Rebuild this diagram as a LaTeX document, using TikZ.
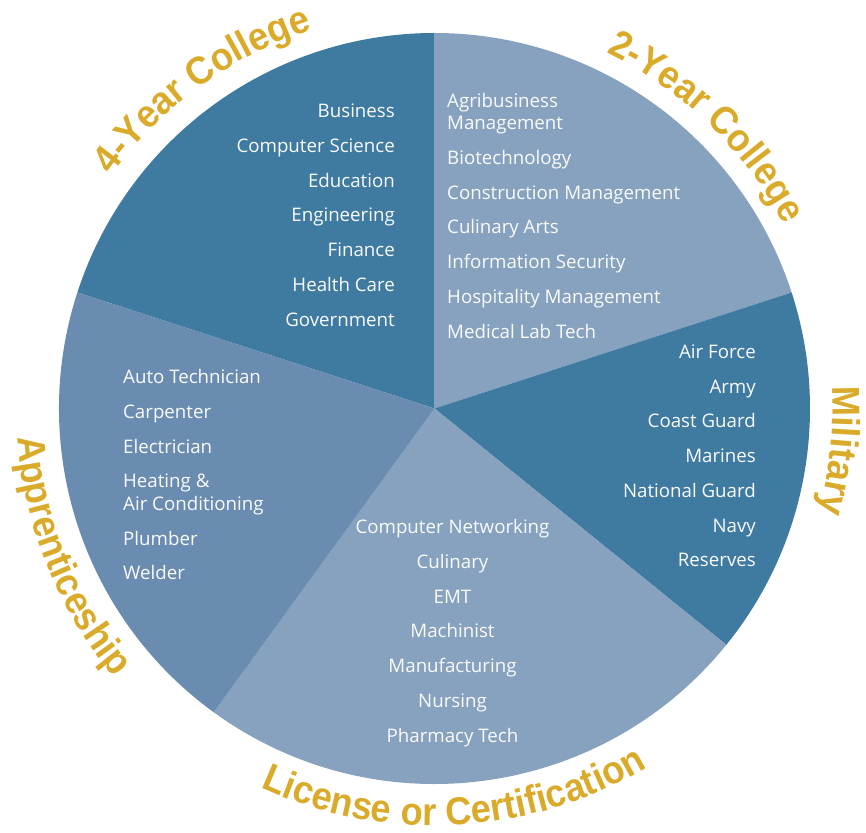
\documentclass[tikz,border=0pt]{standalone}
\usepackage{fontspec}
\setmainfont{Open Sans}
\newfontfamily\capfont[FakeStretch=0.93]{Liberation Sans}
\usetikzlibrary{decorations.text}

\definecolor{slicedark}{RGB}{63,122,160}
\definecolor{slicemid}{RGB}{106,140,176}
\definecolor{slicelight}{RGB}{135,162,190}
\definecolor{capgold}{RGB}{218,171,42}

\tikzset{
  item/.style={text=white!96!slicelight,inner sep=0pt,font=\fontsize{18.7}{22.5}\selectfont},
}

\begin{document}
\begin{tikzpicture}[x=1pt,y=1pt]

\newcommand\Slice[3]{%
  \fill[#3] (0,0) -- (#1:375.5) arc[start angle=#1,end angle=#2,radius=375.5] -- cycle;
}
\newcommand\CurvedLabel[4]{% radius, from, to, text
  \path[decorate,decoration={text along path,text align=center,text color=capgold,
    text={|\capfont\bfseries\fontsize{39}{39}\selectfont|#4}}]
    (#2:#1) arc[start angle=#2,end angle=#3,radius=#1];
}

\useasboundingbox (-434.5,-423.5) rectangle (431.5,408.5);

% the pie, angles
\Slice{90}{162}{slicedark}
\Slice{18}{90}{slicelight}
\Slice{-39}{18}{slicedark}
\Slice{-126}{-39}{slicelight}
\Slice{162}{234}{slicemid}

% names round the rim
\CurvedLabel{398}{160}{92}{4-Year College}
\CurvedLabel{395}{80}{12}{2-Year College}
\CurvedLabel{398}{26}{-38}{Military}
\CurvedLabel{417}{-132}{-42}{License or Certification}
\CurvedLabel{418}{170}{234}{Apprenticeship}

% 4-year
\foreach \txt [count=\i from 0] in {Business,Computer Science,Education,
    Engineering,Finance,Health Care,Government}
  \node[item,anchor=base east] (four\i) at (-39.5,291-34.8*\i) {\txt};

% 2-year (two-line items sit on their last line)
\foreach \y/\txt [count=\i] in {278.5/{Agribusiness\\Management},
    244/Biotechnology,209/Construction Management,175/Culinary Arts,
    140/Information Security,105/Hospitality Management,70/Medical Lab Tech}
  \node[item,anchor=base west,align=left] (two\i) at (12.5,\y) {\txt};

% military
\foreach \txt [count=\i from 0] in {Air Force,Army,Coast Guard,Marines,
    National Guard,Navy,Reserves}
  \node[item,anchor=base east] (mil\i) at (321.5,50-34.7*\i) {\txt};

% license
\foreach \txt [count=\i from 0] in {Computer Networking,Culinary,EMT,Machinist,
    Manufacturing,Nursing,Pharmacy Tech}
  \node[item,anchor=base] (lic\i) at (18,-125-34.8*\i) {\txt};

% apprenticeship
\foreach \y/\txt [count=\i] in {25/Auto Technician,-10/Carpenter,
    -45/Electrician,-101.5/{Heating \&\\Air Conditioning},
    -137/Plumber,-171/Welder}
  \node[item,anchor=base west,align=left] (app\i) at (-311.5,\y) {\txt};

\end{tikzpicture}
\end{document}
